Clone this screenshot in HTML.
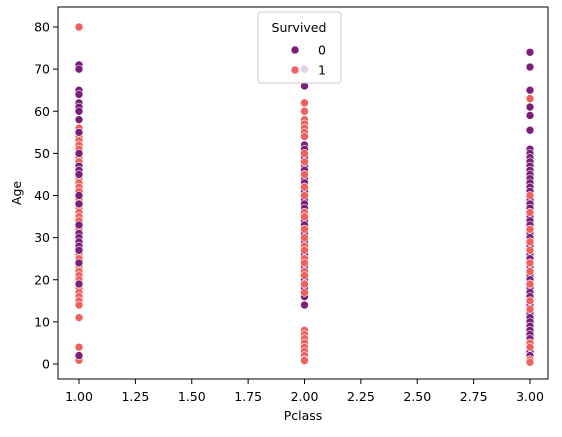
<!DOCTYPE html>
<html><head><meta charset="utf-8"><style>
body{margin:0;background:#fff}
svg text{font-family:"DejaVu Sans","Liberation Sans",sans-serif;font-size:12.5px;fill:#000}
</style></head><body>
<svg id="chart" width="562" height="432" xmlns="http://www.w3.org/2000/svg">
<rect x="0" y="0" width="562" height="432" fill="#fff"/>
<g id="marks"></g>
<g id="axes"></g>
</svg>
<script>
const class1Dead=[71,70,65,64,62,61,60,58,55,50,47,46,45,40,38,33,31,30,29,28,27,24,19,2];
const class1Alive=[80,56,54,53,52,51,50,49,48,47,46,45,44,43,42,41,40,39,38,37,36,35,34,33,32,31,30,29,28,27,26,25,24,23,22,21,20,19,18,17,16,15,14,11,4,1,0.9];
const class2Dead=[70,66,62,57,54,52,51,50,49,48,47,46,45,44,43,42,41,40,39,38,37,36,35,34,33,32,31,30,29,28,27,26,25,24,23,22,21,20,19,18,16,14];
const class2Alive=[62,60,58,57,56,55,54,50,48,45,42,40,36,35,32,30,28,27,25,24,22,21,19,17,8,7,6,5,4,3,2,1,0.8];
const class3Dead=[74,70.5,65,61,59,55.5,51,50,49,48,47,46,45,44,43,42,41,40,39,38,37,36,35,34,33,32,31,30,29,28,27,26,25,24,23,22,21,20,19,18,17,16,15,14,13,12,11,10,9,8,7,6,5,4,3,2,1];
const class3Alive=[63,40,36,32,29,27,24,22,19,15,13,5,4,1,0.4];
const xTicks=[1.00,1.25,1.50,1.75,2.00,2.25,2.50,2.75,3.00];
const yTicks=[0,10,20,30,40,50,60,70,80];
const legendLabels=["0","1"];
const COL=["#7b1f7b","#f0605d"];
const L=58,R=548,T=7,B=379;
const sx=v=>79+(v-1)*225.5;
const sy=v=>364-v*4.2125;
const NS="http://www.w3.org/2000/svg";
const marks=document.getElementById('marks');
const axes=document.getElementById('axes');
function dot(parent,x,y,c){
  const e=document.createElementNS(NS,'circle');
  e.setAttribute('cx',x);e.setAttribute('cy',y);e.setAttribute('r',4);
  e.setAttribute('fill',c);e.setAttribute('stroke','#fff');e.setAttribute('stroke-width',0.6);
  
  
  parent.appendChild(e);
}
[[1,class1Alive,1],[1,class1Dead,0],[2,class2Dead,0],[2,class2Alive,1],[3,class3Dead,0],[3,class3Alive,1]].forEach(([p,arr,s])=>{
  arr.forEach((a,i)=>dot(marks,sx(p),sy(a),COL[s]));
});
function el(tag,attrs,parent,txt){const e=document.createElementNS(NS,tag);for(const k in attrs)e.setAttribute(k,attrs[k]);if(txt!==undefined)e.textContent=txt;(parent||axes).appendChild(e);return e;}
el('rect',{x:L,y:T,width:R-L,height:B-T,fill:'none',stroke:'#000','stroke-width':1});
xTicks.forEach(v=>{
  const x=sx(v);
  el('line',{x1:x,x2:x,y1:B,y2:B+5,stroke:'#000','stroke-width':1});
  const t=el('text',{x:x,y:B+22,'text-anchor':'middle'},axes,v.toFixed(2));
  
  
});
yTicks.forEach(v=>{
  const y=sy(v);
  el('line',{x1:L-5,x2:L,y1:y,y2:y,stroke:'#000','stroke-width':1});
  const t=el('text',{x:L-8,y:y+4.5,'text-anchor':'end'},axes,String(v));
  
  
});
const xl=el('text',{x:(L+R)/2,y:420,'text-anchor':'middle'},axes,'Pclass');


const yl=el('text',{x:21,y:(T+B)/2,'text-anchor':'middle',transform:`rotate(-90 21 ${(T+B)/2})`},axes,'Age');


const lg=el('g',{},axes);


el('rect',{x:258,y:12,width:83,height:71,rx:3,fill:'#fff','fill-opacity':0.8,stroke:'#ccc','stroke-width':1},lg);
el('text',{x:299,y:32,'text-anchor':'middle'},lg,'Survived');
legendLabels.forEach((lab,i)=>{
  const y=50+i*20;
  dot(lg,295,y,COL[i]);
  const t=el('text',{x:318,y:y+4.5},lg,lab);
  
  
});
</script>
</body></html>
